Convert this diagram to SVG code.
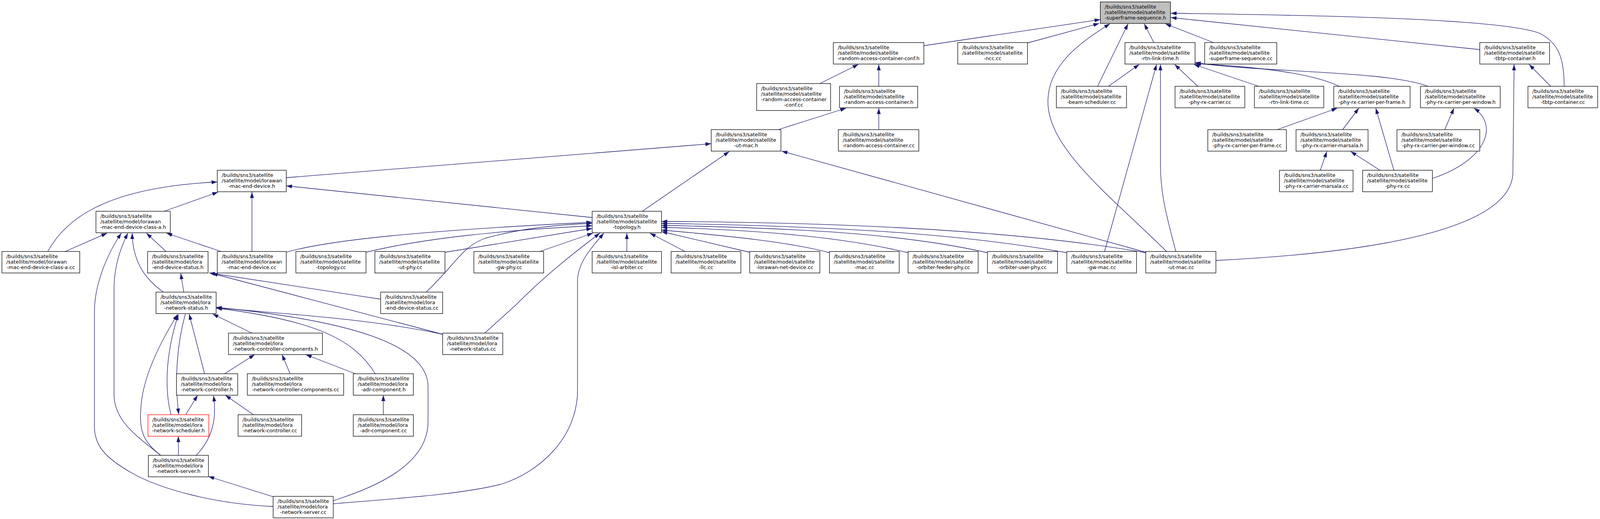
<svg xmlns="http://www.w3.org/2000/svg" width="4153" height="1329" viewBox="0 0 4153 1329">
<defs>
<style>
.n rect{fill:#fff;stroke:#000;stroke-width:1.3}
.root rect{fill:#bfbfbf}
.red rect{stroke:#ff0000}
.n text{font-family:"DejaVu Sans","Liberation Sans",sans-serif;font-size:13px;fill:#000}
.n text.c{text-anchor:middle}
.e path{fill:none;stroke:#191970;stroke-width:1.3;marker-end:url(#ah)}
</style>
<marker id="ah" markerUnits="userSpaceOnUse" markerWidth="15" markerHeight="10" refX="15" refY="5" orient="auto" viewBox="0 0 15 10"><path d="M0,0L15,5L0,10z" fill="#191970"/></marker>
</defs>
<rect width="4153" height="1329" fill="#fff"/>
<g id="drawing" transform="scale(0.98627,1)">
<g id="edges" class="e">
<path d="M2398,117 L2856,50"/>
<path d="M2667,110 L2853,60"/>
<path d="M2995,109 L2970,61"/>
<path d="M3150,109 L3025,61"/>
<path d="M3841,127 L3039,45"/>
<path d="M4060,221 C4060,150 4046,110 3996,85 C3900,50 3500,40 3039,34"/>
<path d="M2849,221 L2928,61"/>
<path d="M3028,644 C2880,500 2720,380 2720,260 C2720,170 2800,110 2881,61"/>
<path d="M2877,221 L2957,165"/>
<path d="M2867,644 L3002,165"/>
<path d="M3052,644 C3030,560 3012,500 3012,420 L3012,165"/>
<path d="M3109,221 L3049,165"/>
<path d="M3267,221 L3099,165"/>
<path d="M3476,221 C3400,185 3250,170 3102,163"/>
<path d="M3707,221 C3600,180 3250,185 3102,160"/>
<path d="M4025,221 L3969,165"/>
<path d="M3156,667 C3500,650 3927,600 3927,440 L3930,165"/>
<path d="M3315,332 L3471,277"/>
<path d="M3485,332 L3527,277"/>
<path d="M3618,436 L3571,277"/>
<path d="M3750,332 L3774,277"/>
<path d="M3718,457 C3860,410 3890,320 3826,277"/>
<path d="M3427,436 L3444,388"/>
<path d="M3582,436 L3506,388"/>
<path d="M2128,214 L2228,165"/>
<path d="M2281,221 L2281,165"/>
<path d="M2020,332 L2196,277"/>
<path d="M2281,332 L2281,277"/>
<path d="M1667,541 L1893,388"/>
<path d="M2974,646 L2029,387"/>
<path d="M743,455 L1846,368"/>
<path d="M1537,557 L743,476"/>
<path d="M426,541 L566,492"/>
<path d="M124,644 C165,570 260,480 564,466"/>
<path d="M654,644 L654,492"/>
<path d="M169,644 L278,597"/>
<path d="M431,644 L380,597"/>
<path d="M574,644 L432,597"/>
<path d="M424,748 C385,720 345,680 343,597"/>
<path d="M417,1166 C360,1120 296,1080 296,1010 L296,740 C296,680 315,630 332,597"/>
<path d="M709,1297 C560,1290 420,1255 340,1210 C270,1170 245,1140 245,1090 L245,800 C245,720 285,640 315,597"/>
<path d="M477,748 L469,700"/>
<path d="M987,766 L543,699"/>
<path d="M1149,856 L550,700"/>
<path d="M444,1062 C430,1010 425,920 463,805"/>
<path d="M481,804 C460,880 452,970 464,1061"/>
<path d="M417,1166 C370,1130 360,1100 366,1040 C372,960 420,870 461,805"/>
<path d="M531,957 L491,804"/>
<path d="M654,853 L552,804"/>
<path d="M1149,856 C950,815 750,805 561,788"/>
<path d="M974,957 C920,870 820,820 561,789"/>
<path d="M865,1282 C1000,1240 1111,1180 1111,1080 L1111,990 C1111,880 900,820 561,787"/>
<path d="M583,957 L661,908"/>
<path d="M753,957 L732,908"/>
<path d="M922,957 L794,908"/>
<path d="M482,1062 L513,1012"/>
<path d="M509,1166 C545,1130 565,1080 554,1013"/>
<path d="M658,1062 L585,1012"/>
<path d="M463,1166 L463,1117"/>
<path d="M995,1062 L995,1012"/>
<path d="M709,1272 L541,1220"/>
<path d="M865,1290 C1050,1275 1200,1265 1300,1240 C1400,1210 1499,1120 1499,1000 L1499,720 C1499,670 1540,630 1567,597"/>
<path d="M1258,853 L1340,780 C1420,700 1500,640 1557,597"/>
<path d="M1106,748 C1180,680 1200,630 1260,610 C1350,585 1450,575 1537,572"/>
<path d="M1401,644 L1539,597"/>
<path d="M1155,646 L1537,585"/>
<path d="M950,646 C1100,610 1300,590 1537,578"/>
<path d="M743,646 C850,615 1100,590 1537,569"/>
<path d="M1627,644 L1627,597"/>
<path d="M1778,644 L1687,597"/>
<path d="M1946,646 L1717,593"/>
<path d="M2153,647 C2050,620 1900,605 1717,589"/>
<path d="M2357,647 C2200,610 2000,590 1717,582"/>
<path d="M2563,647 C2350,600 2100,585 1717,577"/>
<path d="M2769,647 C2500,600 2200,580 1717,572"/>
<path d="M2974,647 C2700,600 2300,570 1717,567"/>
</g>
<g id="n_superframe_sequence_h" class="n root" transform="translate(2856,5)"><rect width="182" height="55"/><text x="11.5" y="17">/builds/sns3/satellite</text><text x="11.5" y="31">/satellite/model/satellite</text><text class="c" x="91" y="45">-superframe-sequence.h</text></g>
<g id="n_rac_conf_h" class="n" transform="translate(2163,109)"><rect width="235" height="55"/><text x="11.5" y="17">/builds/sns3/satellite</text><text x="11.5" y="31">/satellite/model/satellite</text><text class="c" x="117.5" y="45">-random-access-container-conf.h</text></g>
<g id="n_ncc_cc" class="n" transform="translate(2486,109)"><rect width="181" height="55"/><text x="11.5" y="17">/builds/sns3/satellite</text><text x="11.5" y="31">/satellite/model/satellite</text><text class="c" x="90.5" y="45">-ncc.cc</text></g>
<g id="n_rtn_link_time_h" class="n" transform="translate(2920,109)"><rect width="182" height="55"/><text x="11.5" y="17">/builds/sns3/satellite</text><text x="11.5" y="31">/satellite/model/satellite</text><text class="c" x="91" y="45">-rtn-link-time.h</text></g>
<g id="n_superframe_sequence_cc" class="n" transform="translate(3127,109)"><rect width="187" height="55"/><text x="11.5" y="17">/builds/sns3/satellite</text><text x="11.5" y="31">/satellite/model/satellite</text><text class="c" x="93.5" y="45">-superframe-sequence.cc</text></g>
<g id="n_tbtp_container_h" class="n" transform="translate(3841,109)"><rect width="181" height="55"/><text x="11.5" y="17">/builds/sns3/satellite</text><text x="11.5" y="31">/satellite/model/satellite</text><text class="c" x="90.5" y="45">-tbtp-container.h</text></g>
<g id="n_rac_conf_cc" class="n" transform="translate(1964,214)"><rect width="192" height="69"/><text x="11.5" y="17">/builds/sns3/satellite</text><text x="11.5" y="31">/satellite/model/satellite</text><text x="11.5" y="45">-random-access-container</text><text class="c" x="96" y="59">-conf.cc</text></g>
<g id="n_rac_h" class="n" transform="translate(2179,221)"><rect width="203" height="55"/><text x="11.5" y="17">/builds/sns3/satellite</text><text x="11.5" y="31">/satellite/model/satellite</text><text class="c" x="101.5" y="45">-random-access-container.h</text></g>
<g id="n_beam_scheduler_cc" class="n" transform="translate(2742,221)"><rect width="182" height="55"/><text x="11.5" y="17">/builds/sns3/satellite</text><text x="11.5" y="31">/satellite/model/satellite</text><text class="c" x="91" y="45">-beam-scheduler.cc</text></g>
<g id="n_phy_rx_carrier_cc" class="n" transform="translate(3050,221)"><rect width="181" height="55"/><text x="11.5" y="17">/builds/sns3/satellite</text><text x="11.5" y="31">/satellite/model/satellite</text><text class="c" x="90.5" y="45">-phy-rx-carrier.cc</text></g>
<g id="n_rtn_link_time_cc" class="n" transform="translate(3256,221)"><rect width="180" height="55"/><text x="11.5" y="17">/builds/sns3/satellite</text><text x="11.5" y="31">/satellite/model/satellite</text><text class="c" x="90" y="45">-rtn-link-time.cc</text></g>
<g id="n_per_frame_h" class="n" transform="translate(3462,221)"><rect width="198" height="55"/><text x="11.5" y="17">/builds/sns3/satellite</text><text x="11.5" y="31">/satellite/model/satellite</text><text class="c" x="99" y="45">-phy-rx-carrier-per-frame.h</text></g>
<g id="n_per_window_h" class="n" transform="translate(3687,221)"><rect width="207" height="55"/><text x="11.5" y="17">/builds/sns3/satellite</text><text x="11.5" y="31">/satellite/model/satellite</text><text class="c" x="103.5" y="45">-phy-rx-carrier-per-window.h</text></g>
<g id="n_tbtp_container_cc" class="n" transform="translate(3966,221)"><rect width="181" height="55"/><text x="11.5" y="17">/builds/sns3/satellite</text><text x="11.5" y="31">/satellite/model/satellite</text><text class="c" x="90.5" y="45">-tbtp-container.cc</text></g>
<g id="n_ut_mac_h" class="n" transform="translate(1846,332)"><rect width="181" height="55"/><text x="11.5" y="17">/builds/sns3/satellite</text><text x="11.5" y="31">/satellite/model/satellite</text><text class="c" x="90.5" y="45">-ut-mac.h</text></g>
<g id="n_rac_cc" class="n" transform="translate(2176,332)"><rect width="209" height="55"/><text x="11.5" y="17">/builds/sns3/satellite</text><text x="11.5" y="31">/satellite/model/satellite</text><text class="c" x="104.5" y="45">-random-access-container.cc</text></g>
<g id="n_per_frame_cc" class="n" transform="translate(3135,332)"><rect width="204" height="55"/><text x="11.5" y="17">/builds/sns3/satellite</text><text x="11.5" y="31">/satellite/model/satellite</text><text class="c" x="102" y="45">-phy-rx-carrier-per-frame.cc</text></g>
<g id="n_marsala_h" class="n" transform="translate(3364,332)"><rect width="187" height="55"/><text x="11.5" y="17">/builds/sns3/satellite</text><text x="11.5" y="31">/satellite/model/satellite</text><text class="c" x="93.5" y="45">-phy-rx-carrier-marsala.h</text></g>
<g id="n_per_window_cc" class="n" transform="translate(3626,332)"><rect width="215" height="55"/><text x="11.5" y="17">/builds/sns3/satellite</text><text x="11.5" y="31">/satellite/model/satellite</text><text class="c" x="107.5" y="45">-phy-rx-carrier-per-window.cc</text></g>
<g id="n_mac_end_device_h" class="n" transform="translate(564,436)"><rect width="179" height="55"/><text x="11.5" y="17">/builds/sns3/satellite</text><text x="11.5" y="31">/satellite/model/lorawan</text><text class="c" x="89.5" y="45">-mac-end-device.h</text></g>
<g id="n_marsala_cc" class="n" transform="translate(3321,436)"><rect width="191" height="55"/><text x="11.5" y="17">/builds/sns3/satellite</text><text x="11.5" y="31">/satellite/model/satellite</text><text class="c" x="95.5" y="45">-phy-rx-carrier-marsala.cc</text></g>
<g id="n_phy_rx_cc" class="n" transform="translate(3537,436)"><rect width="181" height="55"/><text x="11.5" y="17">/builds/sns3/satellite</text><text x="11.5" y="31">/satellite/model/satellite</text><text class="c" x="90.5" y="45">-phy-rx.cc</text></g>
<g id="n_class_a_h" class="n" transform="translate(249,541)"><rect width="193" height="55"/><text x="11.5" y="17">/builds/sns3/satellite</text><text x="11.5" y="31">/satellite/model/lorawan</text><text class="c" x="96.5" y="45">-mac-end-device-class-a.h</text></g>
<g id="n_topology_h" class="n" transform="translate(1537,541)"><rect width="180" height="55"/><text x="11.5" y="17">/builds/sns3/satellite</text><text x="11.5" y="31">/satellite/model/satellite</text><text class="c" x="90" y="45">-topology.h</text></g>
<g id="n_class_a_cc" class="n" transform="translate(5,644)"><rect width="202" height="55"/><text x="11.5" y="17">/builds/sns3/satellite</text><text x="11.5" y="31">/satellite/model/lorawan</text><text class="c" x="101" y="45">-mac-end-device-class-a.cc</text></g>
<g id="n_end_device_status_h" class="n" transform="translate(383,644)"><rect width="157" height="55"/><text x="11.5" y="17">/builds/sns3/satellite</text><text x="11.5" y="31">/satellite/model/lora</text><text class="c" x="78.5" y="45">-end-device-status.h</text></g>
<g id="n_mac_end_device_cc" class="n" transform="translate(564,644)"><rect width="179" height="55"/><text x="11.5" y="17">/builds/sns3/satellite</text><text x="11.5" y="31">/satellite/model/lorawan</text><text class="c" x="89.5" y="45">-mac-end-device.cc</text></g>
<g id="n_topology_cc" class="n" transform="translate(768,644)"><rect width="182" height="55"/><text x="11.5" y="17">/builds/sns3/satellite</text><text x="11.5" y="31">/satellite/model/satellite</text><text class="c" x="91" y="45">-topology.cc</text></g>
<g id="n_ut_phy_cc" class="n" transform="translate(973,644)"><rect width="182" height="55"/><text x="11.5" y="17">/builds/sns3/satellite</text><text x="11.5" y="31">/satellite/model/satellite</text><text class="c" x="91" y="45">-ut-phy.cc</text></g>
<g id="n_gw_phy_cc" class="n" transform="translate(1230,644)"><rect width="181" height="55"/><text x="11.5" y="17">/builds/sns3/satellite</text><text x="11.5" y="31">/satellite/model/satellite</text><text class="c" x="90.5" y="45">-gw-phy.cc</text></g>
<g id="n_isl_arbiter_cc" class="n" transform="translate(1537,644)"><rect width="180" height="55"/><text x="11.5" y="17">/builds/sns3/satellite</text><text x="11.5" y="31">/satellite/model/satellite</text><text class="c" x="90" y="45">-isl-arbiter.cc</text></g>
<g id="n_llc_cc" class="n" transform="translate(1742,644)"><rect width="181" height="55"/><text x="11.5" y="17">/builds/sns3/satellite</text><text x="11.5" y="31">/satellite/model/satellite</text><text class="c" x="90.5" y="45">-llc.cc</text></g>
<g id="n_lorawan_net_device_cc" class="n" transform="translate(1946,644)"><rect width="182" height="55"/><text x="11.5" y="17">/builds/sns3/satellite</text><text x="11.5" y="31">/satellite/model/satellite</text><text class="c" x="91" y="45">-lorawan-net-device.cc</text></g>
<g id="n_mac_cc" class="n" transform="translate(2153,644)"><rect width="181" height="55"/><text x="11.5" y="17">/builds/sns3/satellite</text><text x="11.5" y="31">/satellite/model/satellite</text><text class="c" x="90.5" y="45">-mac.cc</text></g>
<g id="n_orbiter_feeder_phy_cc" class="n" transform="translate(2357,644)"><rect width="182" height="55"/><text x="11.5" y="17">/builds/sns3/satellite</text><text x="11.5" y="31">/satellite/model/satellite</text><text class="c" x="91" y="45">-orbiter-feeder-phy.cc</text></g>
<g id="n_orbiter_user_phy_cc" class="n" transform="translate(2563,644)"><rect width="182" height="55"/><text x="11.5" y="17">/builds/sns3/satellite</text><text x="11.5" y="31">/satellite/model/satellite</text><text class="c" x="91" y="45">-orbiter-user-phy.cc</text></g>
<g id="n_gw_mac_cc" class="n" transform="translate(2769,644)"><rect width="181" height="55"/><text x="11.5" y="17">/builds/sns3/satellite</text><text x="11.5" y="31">/satellite/model/satellite</text><text class="c" x="90.5" y="45">-gw-mac.cc</text></g>
<g id="n_ut_mac_cc" class="n" transform="translate(2974,644)"><rect width="182" height="55"/><text x="11.5" y="17">/builds/sns3/satellite</text><text x="11.5" y="31">/satellite/model/satellite</text><text class="c" x="91" y="45">-ut-mac.cc</text></g>
<g id="n_network_status_h" class="n" transform="translate(405,748)"><rect width="156" height="55"/><text x="11.5" y="17">/builds/sns3/satellite</text><text x="11.5" y="31">/satellite/model/lora</text><text class="c" x="78" y="45">-network-status.h</text></g>
<g id="n_end_device_status_cc" class="n" transform="translate(988,748)"><rect width="161" height="55"/><text x="11.5" y="17">/builds/sns3/satellite</text><text x="11.5" y="31">/satellite/model/lora</text><text class="c" x="80.5" y="45">-end-device-status.cc</text></g>
<g id="n_network_controller_components_h" class="n" transform="translate(593,853)"><rect width="244" height="55"/><text x="11.5" y="17">/builds/sns3/satellite</text><text x="11.5" y="31">/satellite/model/lora</text><text class="c" x="122" y="45">-network-controller-components.h</text></g>
<g id="n_network_status_cc" class="n" transform="translate(1149,853)"><rect width="156" height="55"/><text x="11.5" y="17">/builds/sns3/satellite</text><text x="11.5" y="31">/satellite/model/lora</text><text class="c" x="78" y="45">-network-status.cc</text></g>
<g id="n_network_controller_h" class="n" transform="translate(458,957)"><rect width="159" height="55"/><text x="11.5" y="17">/builds/sns3/satellite</text><text x="11.5" y="31">/satellite/model/lora</text><text class="c" x="79.5" y="45">-network-controller.h</text></g>
<g id="n_network_controller_components_cc" class="n" transform="translate(642,957)"><rect width="250" height="55"/><text x="11.5" y="17">/builds/sns3/satellite</text><text x="11.5" y="31">/satellite/model/lora</text><text class="c" x="125" y="45">-network-controller-components.cc</text></g>
<g id="n_adr_component_h" class="n" transform="translate(917,957)"><rect width="156" height="55"/><text x="11.5" y="17">/builds/sns3/satellite</text><text x="11.5" y="31">/satellite/model/lora</text><text class="c" x="78" y="45">-adr-component.h</text></g>
<g id="n_network_scheduler_h" class="n red" transform="translate(384,1062)"><rect width="158" height="55"/><text x="11.5" y="17">/builds/sns3/satellite</text><text x="11.5" y="31">/satellite/model/lora</text><text class="c" x="79" y="45">-network-scheduler.h</text></g>
<g id="n_network_controller_cc" class="n" transform="translate(618,1062)"><rect width="165" height="55"/><text x="11.5" y="17">/builds/sns3/satellite</text><text x="11.5" y="31">/satellite/model/lora</text><text class="c" x="82.5" y="45">-network-controller.cc</text></g>
<g id="n_adr_component_cc" class="n" transform="translate(917,1062)"><rect width="156" height="55"/><text x="11.5" y="17">/builds/sns3/satellite</text><text x="11.5" y="31">/satellite/model/lora</text><text class="c" x="78" y="45">-adr-component.cc</text></g>
<g id="n_network_server_h" class="n" transform="translate(385,1166)"><rect width="156" height="55"/><text x="11.5" y="17">/builds/sns3/satellite</text><text x="11.5" y="31">/satellite/model/lora</text><text class="c" x="78" y="45">-network-server.h</text></g>
<g id="n_network_server_cc" class="n" transform="translate(709,1271)"><rect width="156" height="55"/><text x="11.5" y="17">/builds/sns3/satellite</text><text x="11.5" y="31">/satellite/model/lora</text><text class="c" x="78" y="45">-network-server.cc</text></g>
</g>
</svg>
